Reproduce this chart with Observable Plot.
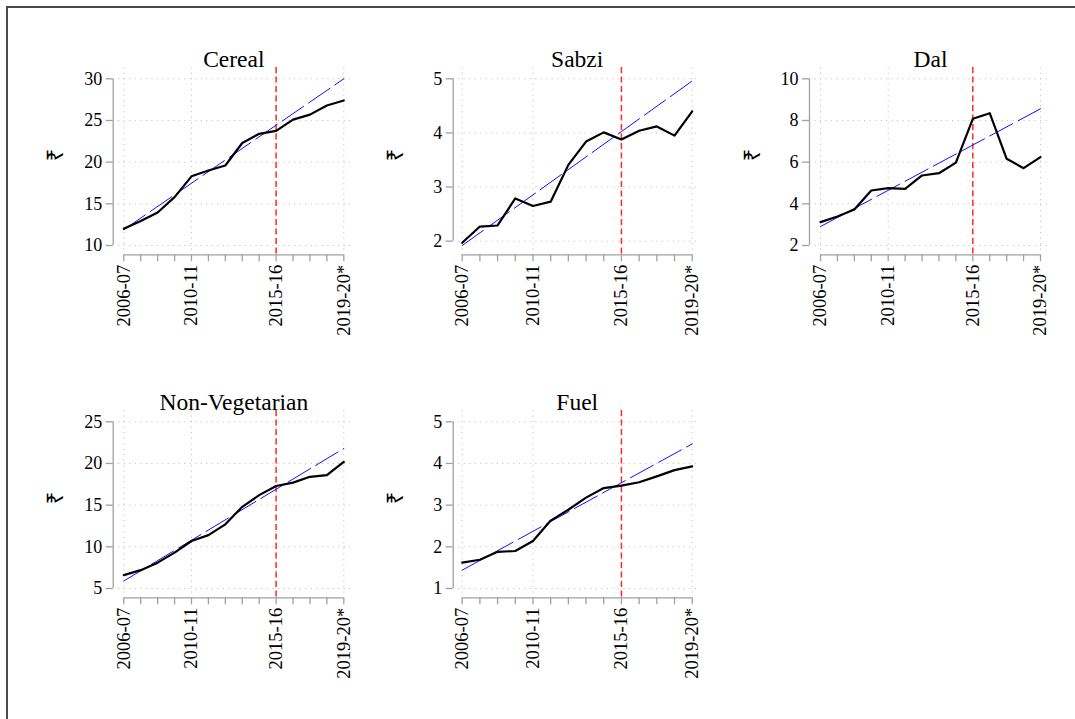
<!DOCTYPE html>
<html><head><meta charset="utf-8">
<script src="https://cdn.jsdelivr.net/npm/d3@7"></script>
<script src="https://cdn.jsdelivr.net/npm/@observablehq/plot@0.6"></script>
<style>
body{margin:0;background:#fff;}
#wrap{position:relative;width:1075px;height:719px;overflow:hidden;background:#fff;}
#frame{position:absolute;left:6px;top:6px;width:1200px;height:800px;border-top:2px solid #4a4a4a;border-left:2px solid #4a4a4a;}
</style></head><body><div id="wrap"><div id="frame"></div></div>
<script>
// ---- data ----
const years = ["2006-07","2007-08","2008-09","2009-10","2010-11","2011-12","2012-13","2013-14","2014-15","2015-16","2016-17","2017-18","2018-19","2019-20*"];
const shownYears = ["2006-07","2010-11","2015-16","2019-20*"];
const markerYear = "2015-16";

const titles = ["Cereal","Sabzi","Dal","Non-Vegetarian","Fuel"];

const cereal = [12.0, 12.95, 13.96, 15.8, 18.3, 19.0, 19.6, 22.3, 23.4, 23.75, 25.1, 25.7, 26.8, 27.4];
const sabzi  = [1.97, 2.27, 2.29, 2.79, 2.65, 2.73, 3.41, 3.84, 4.01, 3.88, 4.04, 4.12, 3.95, 4.40];
const dal    = [3.12, 3.39, 3.73, 4.64, 4.75, 4.72, 5.36, 5.47, 5.98, 8.08, 8.35, 6.16, 5.71, 6.24];
const nonVeg = [6.6, 7.2, 8.1, 9.3, 10.7, 11.4, 12.7, 14.8, 16.2, 17.3, 17.7, 18.4, 18.6, 20.2];
const fuel   = [1.62, 1.69, 1.88, 1.90, 2.14, 2.63, 2.89, 3.18, 3.41, 3.47, 3.55, 3.69, 3.84, 3.93];

// fitted linear trend: value at first and last year
const cerealTrend = [11.9, 30.0];
const sabziTrend  = [1.92, 4.96];
const dalTrend    = [2.91, 8.56];
const nonVegTrend = [5.9, 21.8];
const fuelTrend   = [1.44, 4.47];

const cerealTicks = [10, 15, 20, 25, 30];
const sabziTicks  = [2, 3, 4, 5];
const dalTicks    = [2, 4, 6, 8, 10];
const nonVegTicks = [5, 10, 15, 20, 25];
const fuelTicks   = [1, 2, 3, 4, 5];

const yLabel = "₹";

// ---- layout ----
const series = [
  {title: titles[0], values: cereal, trend: cerealTrend, ticks: cerealTicks, left: 10,  top: 10,  width: 350, mL: 102.7, mR: 10,   inL: 10.6},
  {title: titles[1], values: sabzi,  trend: sabziTrend,  ticks: sabziTicks,  left: 360, top: 10,  width: 350, mL: 92.7,  mR: 11.6, inL: 9},
  {title: titles[2], values: dal,    trend: dalTrend,    ticks: dalTicks,    left: 710, top: 10,  width: 355, mL: 99,    mR: 18.3, inL: 11},
  {title: titles[3], values: nonVeg, trend: nonVegTrend, ticks: nonVegTicks, left: 10,  top: 353, width: 350, mL: 102.7, mR: 10,   inL: 10.6},
  {title: titles[4], values: fuel,   trend: fuelTrend,   ticks: fuelTicks,   left: 360, top: 353, width: 350, mL: 92.7,  mR: 11.6, inL: 9}
];

const FONT = "'Liberation Serif','Times New Roman','DejaVu Serif',serif";
const AXIS = "#a0a0a0";
const GRID = "#c4c4c4";
const n = years.length;
const idx = d3.range(n);
const markerIdx = years.indexOf(markerYear);
const wrap = document.getElementById("wrap");

for (const s of series) {
  const pts = s.values.map((v, i) => ({x: i, y: v}));
  const trendPts = [{x: 0, y: s.trend[0]}, {x: n - 1, y: s.trend[1]}];
  const lo = Math.min(d3.min(s.ticks), d3.min(s.values), d3.min(s.trend));
  const hi = Math.max(d3.max(s.ticks), d3.max(s.values), d3.max(s.trend));
  const insetTop = 11.3, insetBottom = 9.3;
  const chart = Plot.plot({
    width: s.width,
    height: 330,
    marginLeft: s.mL,
    marginRight: s.mR,
    marginTop: 57,
    marginBottom: 85.7,
    style: {fontFamily: FONT, fontSize: "18px", color: "black", background: "transparent", overflow: "visible"},
    x: {domain: [0, n - 1], insetLeft: s.inL, insetRight: 6.7},
    y: {domain: [lo, hi], insetTop, insetBottom},
    marks: [
      Plot.gridY(s.ticks, {stroke: GRID, strokeOpacity: 1, strokeWidth: 1, strokeDasharray: "1.2,4.3", insetLeft: 5.5}),
      Plot.gridX(shownYears.map(y => years.indexOf(y)), {stroke: GRID, strokeOpacity: 1, strokeWidth: 1, strokeDasharray: "1.2,4.3", insetBottom: 4}),
      Plot.ruleX([0], {y1: d3.min(s.ticks), y2: d3.max(s.ticks), dx: -s.inL, stroke: AXIS, strokeWidth: 1.3}),
      Plot.ruleY([lo], {x1: 0, x2: n - 1, dy: insetBottom, stroke: AXIS, strokeWidth: 1.3}),
      Plot.axisY(s.ticks, {tickSize: 7, tickPadding: 4, stroke: AXIS, fill: "black", label: null, fontSize: 18, strokeWidth: 1.3,
        tickFormat: d => String(d)}),
      Plot.axisX(idx, {tickSize: 7, tickPadding: 3, tickRotate: -90, stroke: AXIS, fill: "black", label: null, fontSize: 18.5, strokeWidth: 1.3,
        tickFormat: i => shownYears.includes(years[i]) ? years[i] : ""}),
      Plot.ruleX([markerIdx], {stroke: "#ff2a2a", strokeWidth: 1.5, strokeDasharray: "6,3.5"}),
      Plot.line(trendPts, {x: "x", y: "y", stroke: "#1010ff", strokeWidth: 1, strokeDasharray: "26,6"}),
      Plot.line(pts, {x: "x", y: "y", stroke: "black", strokeWidth: 2.2}),
      Plot.text([s.title], {x: (n - 1) / 2, frameAnchor: "top", dy: -16.7, fontSize: 23.5, fill: "black"}),
      Plot.text([yLabel], {frameAnchor: "left", dx: -57, rotate: -90, fontSize: 22, fill: "black", fontFamily: "'Noto Sans','DejaVu Sans',sans-serif"})
    ]
  });
  chart.style.position = "absolute";
  chart.style.left = s.left + "px";
  chart.style.top = s.top + "px";
  wrap.appendChild(chart);
}
</script>
</body></html>
